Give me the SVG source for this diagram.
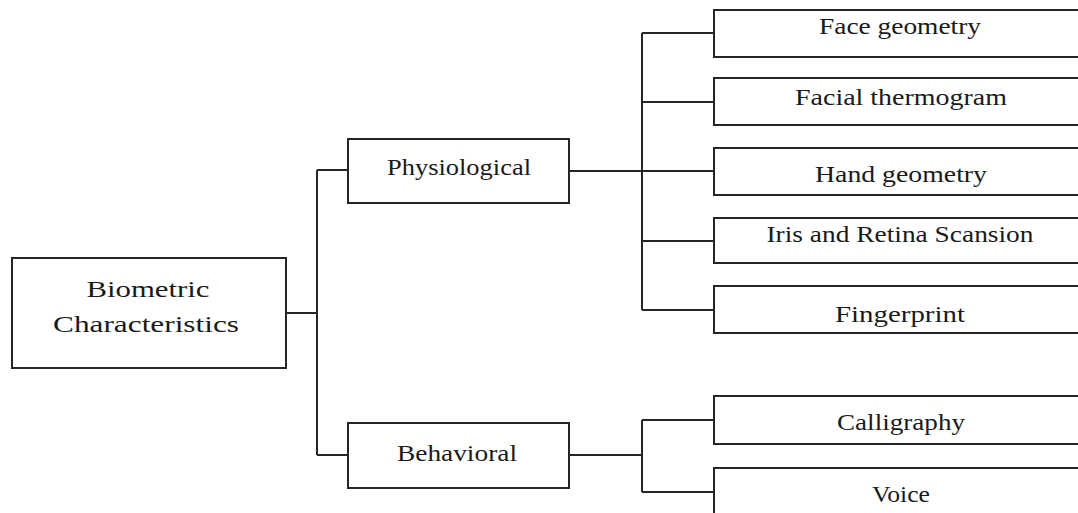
<svg xmlns="http://www.w3.org/2000/svg" width="1078" height="513" viewBox="0 0 1078 513">
<style>
.box{fill:#fff;stroke:#262626;stroke-width:2}
.ln{fill:none;stroke:#262626;stroke-width:2}
text{font-family:"Liberation Serif","DejaVu Serif",serif;font-size:24px;fill:#1a1a1a;text-anchor:middle}
</style>
<rect width="1078" height="513" fill="#fff"/>
<g id="connectors">
<path class="ln" d="M286 313H317M317 170V455M317 170H348M317 455H348"/>
<path class="ln" d="M569 171H642M642 33V310M642 33H714M642 102H714M642 171H714M642 241H714M642 310H714"/>
<path class="ln" d="M569 455H642M642 420V492M642 420H714M642 492H714"/>
</g>
<g id="biometric"><rect class="box" x="12" y="258" width="274" height="110"/>
<text x="148" y="297" textLength="123" lengthAdjust="spacingAndGlyphs">Biometric</text>
<text x="146" y="332" textLength="186" lengthAdjust="spacingAndGlyphs">Characteristics</text></g>
<g id="physiological"><rect class="box" x="348" y="139" width="221" height="64"/>
<text x="459" y="175" textLength="144" lengthAdjust="spacingAndGlyphs">Physiological</text></g>
<g id="behavioral"><rect class="box" x="348" y="423" width="221" height="65"/>
<text x="457" y="461" textLength="120" lengthAdjust="spacingAndGlyphs">Behavioral</text></g>
<g id="face"><rect class="box" x="714" y="10" width="380" height="47"/>
<text x="900" y="34" textLength="162" lengthAdjust="spacingAndGlyphs">Face geometry</text></g>
<g id="thermogram"><rect class="box" x="714" y="78" width="380" height="47"/>
<text x="901" y="105" textLength="212" lengthAdjust="spacingAndGlyphs">Facial thermogram</text></g>
<g id="hand"><rect class="box" x="714" y="148" width="380" height="47"/>
<text x="901" y="182" textLength="172" lengthAdjust="spacingAndGlyphs">Hand geometry</text></g>
<g id="iris"><rect class="box" x="714" y="218" width="380" height="45"/>
<text x="900" y="242" textLength="267" lengthAdjust="spacingAndGlyphs">Iris and Retina Scansion</text></g>
<g id="fingerprint"><rect class="box" x="714" y="286" width="380" height="47"/>
<text x="900" y="322" textLength="130" lengthAdjust="spacingAndGlyphs">Fingerprint</text></g>
<g id="calligraphy"><rect class="box" x="714" y="396" width="380" height="48"/>
<text x="901" y="430" textLength="128" lengthAdjust="spacingAndGlyphs">Calligraphy</text></g>
<g id="voice"><rect class="box" x="714" y="468" width="380" height="60"/>
<text x="901" y="502" textLength="58" lengthAdjust="spacingAndGlyphs">Voice</text></g>
</svg>
